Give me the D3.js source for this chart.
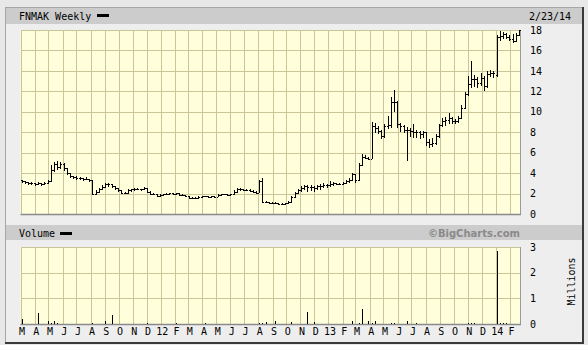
<!DOCTYPE html>
<html lang="en">
<head>
<meta charset="utf-8">
<title>FNMAK Weekly</title>
<script src="https://cdnjs.cloudflare.com/ajax/libs/d3/7.8.5/d3.min.js"></script>
<style>
  html, body { margin: 0; padding: 0; background: #e8e8e8; }
  svg { display: block; }
  .lbl { font-family: "DejaVu Sans Mono", monospace; font-size: 10px; fill: #000; }
  .grid { stroke: #cbc69a; stroke-width: 1; shape-rendering: crispEdges; }
  .bar { stroke: #000; stroke-width: 1; shape-rendering: crispEdges; }
</style>
</head>
<body>
<svg id="chart" width="588" height="345"></svg>
<script>
// weekly bars, first one is the week ending Fri 4 Mar 2011
var firstWeek = new Date(2011, 2, 4);

var openP = [
  3.3,3.2,3.1,3.0,3.0,2.9,3.0,2.9,3.0,3.2,
  4.3,4.9,4.6,4.9,4.5,4.0,3.7,3.6,3.5,3.5,
  3.4,3.4,3.3,2.0,2.2,2.4,2.6,2.9,2.9,2.7,
  2.5,2.3,2.1,2.1,2.3,2.4,2.4,2.4,2.4,2.5,
  2.2,2.0,2.0,1.8,1.9,1.95,2.0,2.05,1.95,2.05,
  1.9,1.9,1.8,1.6,1.55,1.6,1.7,1.75,1.75,1.7,
  1.75,1.7,1.9,1.95,1.95,1.9,1.95,2.2,2.4,2.4,
  2.35,2.35,2.25,2.2,2.1,3.2,1.2,1.15,1.1,1.05,
  1.05,1.0,0.95,1.05,1.2,1.7,2.1,2.35,2.5,2.7,
  2.6,2.6,2.5,2.7,2.7,2.85,2.8,2.9,3.0,2.95,
  2.95,3.0,3.2,3.3,3.9,3.3,4.8,5.6,5.5,5.4,
  8.6,8.4,8.1,7.6,8.6,8.7,11.0,11.0,8.8,8.6,
  8.2,8.2,8.1,8.0,8.0,7.8,8.0,7.0,6.8,6.9,
  7.6,8.7,9.1,9.2,9.4,9.1,9.1,9.4,10.4,11.7,
  12.7,13.2,13.2,12.8,13.3,12.5,13.7,13.8,13.6,17.3,
  17.4,17.6,17.3,17.1,16.9,17.5
];
var highP = [
  3.35,3.25,3.15,3.1,3.05,3.1,3.05,3.1,3.3,4.8,
  5.1,5.2,5.1,4.95,4.5,4.05,3.75,3.7,3.6,3.55,
  3.6,3.45,3.35,2.3,2.5,2.8,3.0,3.0,2.95,2.75,
  2.55,2.35,2.2,2.4,2.45,2.5,2.5,2.45,2.6,2.5,
  2.25,2.1,2.0,1.95,2.0,2.05,2.1,2.1,2.1,2.05,
  1.95,1.9,1.8,1.65,1.65,1.75,1.8,1.8,1.8,1.8,
  1.8,1.95,2.0,2.0,2.0,2.0,2.3,2.5,2.5,2.45,
  2.45,2.4,2.3,2.25,3.3,3.5,1.25,1.2,1.15,1.15,
  1.1,1.05,1.1,1.3,1.8,2.2,2.45,2.7,2.85,2.8,
  2.85,2.7,2.85,2.9,3.0,2.9,3.2,3.1,3.05,3.05,
  3.1,3.3,3.5,4.0,3.9,5.0,5.9,5.8,5.6,9.0,
  8.9,8.6,8.2,8.8,9.6,11.4,12.1,11.1,8.9,8.7,
  8.5,8.4,8.8,8.2,8.1,8.1,8.0,7.3,7.4,7.8,
  8.8,9.4,9.5,9.9,9.5,9.3,9.6,10.7,11.9,13.5,
  15.0,13.6,13.4,13.8,13.5,14.0,14.1,14.0,17.5,17.9,
  17.8,17.7,17.5,17.6,17.7,18.0
];
var lowP = [
  3.1,3.0,2.9,2.9,2.8,2.85,2.8,2.85,2.95,3.15,
  4.2,4.4,4.5,4.3,3.9,3.6,3.5,3.4,3.4,3.3,
  3.35,3.2,1.9,1.95,2.15,2.35,2.55,2.7,2.6,2.4,
  2.2,2.05,2.05,2.05,2.25,2.3,2.35,2.3,2.35,2.15,
  1.95,1.95,1.75,1.75,1.85,1.9,1.95,1.9,1.9,1.85,
  1.85,1.75,1.55,1.5,1.5,1.55,1.65,1.7,1.65,1.65,
  1.65,1.7,1.85,1.9,1.85,1.85,1.9,2.15,2.3,2.3,
  2.3,2.2,2.15,2.05,2.1,1.1,1.1,1.05,1.0,1.0,
  0.95,0.9,0.9,1.0,1.15,1.65,2.0,2.2,2.4,2.2,
  2.3,2.2,2.4,2.4,2.6,2.6,2.7,2.8,2.85,2.85,
  2.9,2.95,3.1,3.25,3.1,3.3,4.7,5.4,5.3,5.4,
  8.0,7.9,7.4,7.5,8.4,8.5,10.0,8.5,8.1,8.0,
  5.2,7.6,7.5,7.5,7.4,7.5,6.7,6.5,6.6,6.8,
  7.5,8.6,8.7,8.9,8.9,8.9,9.0,9.3,10.3,11.6,
  12.4,12.5,12.4,12.6,12.1,12.4,13.5,13.4,13.5,17.0,
  17.2,17.2,17.0,16.8,16.9,17.5
];
var closeP = [
  3.2,3.1,3.0,3.0,2.9,3.0,2.9,3.0,3.2,4.3,
  4.9,4.6,4.9,4.5,4.0,3.7,3.6,3.5,3.5,3.4,
  3.4,3.3,2.0,2.2,2.4,2.6,2.9,2.9,2.7,2.5,
  2.3,2.1,2.1,2.3,2.4,2.4,2.4,2.4,2.5,2.2,
  2.0,2.0,1.8,1.9,1.95,2.0,2.05,1.95,2.05,1.9,
  1.9,1.8,1.6,1.55,1.6,1.7,1.75,1.75,1.7,1.75,
  1.7,1.9,1.95,1.95,1.9,1.95,2.2,2.4,2.4,2.35,
  2.35,2.25,2.2,2.1,3.2,1.2,1.15,1.1,1.05,1.05,
  1.0,0.95,1.05,1.2,1.7,2.1,2.35,2.5,2.7,2.6,
  2.6,2.5,2.7,2.7,2.85,2.8,2.9,3.0,2.95,2.95,
  3.0,3.2,3.3,3.9,3.3,4.8,5.6,5.5,5.4,8.6,
  8.4,8.1,7.6,8.6,8.7,11.0,11.0,8.8,8.6,8.2,
  8.2,8.1,8.0,8.0,7.8,8.0,7.0,6.8,6.9,7.6,
  8.7,9.1,9.2,9.4,9.1,9.1,9.4,10.4,11.7,12.7,
  13.2,13.2,12.8,13.3,12.5,13.7,13.8,13.8,17.3,17.4,
  17.6,17.3,17.1,16.9,17.5,18.0
];
// volume in millions
var volume = [
  0.2,0.01,0.01,0.01,0.01,0.42,0.01,0.01,0.1,0.02,
  0.1,0.02,0.01,0.01,0.01,0.01,0.01,0.01,0.01,0.01,
  0.01,0.01,0.02,0.01,0.01,0.01,0.12,0.01,0.35,0.01,
  0.01,0.01,0.01,0.01,0.01,0.01,0.01,0.01,0.01,0.04,
  0.01,0.01,0.01,0.01,0.01,0.01,0.01,0.01,0.05,0.01,
  0.01,0.01,0.01,0.01,0.01,0.01,0.01,0.04,0.01,0.01,
  0.01,0.01,0.01,0.01,0.01,0.01,0.01,0.01,0.01,0.01,
  0.01,0.01,0.01,0.01,0.02,0.03,0.08,0.01,0.01,0.1,
  0.01,0.01,0.01,0.01,0.06,0.01,0.01,0.01,0.01,0.48,
  0.01,0.06,0.01,0.01,0.01,0.01,0.01,0.01,0.01,0.01,
  0.01,0.01,0.01,0.1,0.01,0.02,0.58,0.01,0.1,0.02,
  0.12,0.01,0.01,0.01,0.01,0.05,0.02,0.01,0.01,0.01,
  0.1,0.01,0.01,0.05,0.01,0.01,0.01,0.01,0.01,0.01,
  0.01,0.01,0.01,0.01,0.01,0.01,0.01,0.01,0.01,0.05,
  0.02,0.05,0.01,0.01,0.01,0.01,0.01,0.01,2.84,0.02,
  0.05,0.05,0.01,0.01,0.01,0.01
];

var priceTicks = [0, 2, 4, 6, 8, 10, 12, 14, 16, 18];
var volumeTicks = [0, 1, 2, 3];
var titleText = "FNMAK Weekly";
var dateText = "2/23/14";

var weeks = closeP.map(function (d, i) { return d3.timeWeek.offset(firstWeek, i); });

//---------------------------------------------
// layout
//---------------------------------------------
var svg = d3.select("#chart");
var left = 20.5, right = 520;
var pTop = 30, pBottom = 214;
var vTop = 247, vBottom = 324;

var x = d3.scaleTime()
  .domain([new Date(2011, 2, 1), new Date(2014, 1, 23)])
  .range([left, right]);
var yP = d3.scaleLinear().domain([0, 18]).range([pBottom, pTop]);
var yV = d3.scaleLinear().domain([0, 3]).range([vBottom, vTop]);

var months = d3.timeMonth.range(new Date(2011, 2, 1), new Date(2014, 1, 23));
function px(v) { return Math.round(v) + 0.5; }

// outer frame
svg.append("rect").attr("x", 5.5).attr("y", 7.5).attr("width", 577).attr("height", 335)
  .style("fill", "#eeeeee").style("stroke", "#a6a6a6");
svg.append("line").attr("x1", 583).attr("y1", 7).attr("x2", 583).attr("y2", 344)
  .style("stroke", "#3a3a3a").style("stroke-width", 2);
svg.append("line").attr("x1", 5).attr("y1", 343).attr("x2", 584).attr("y2", 343)
  .style("stroke", "#3a3a3a").style("stroke-width", 2);

// title bands
svg.append("rect").attr("x", 6).attr("y", 8).attr("width", 576).attr("height", 16)
  .style("fill", "#cccccc");
svg.append("rect").attr("x", 6).attr("y", 225).attr("width", 576).attr("height", 15)
  .style("fill", "#cccccc");

svg.append("text").attr("class", "lbl").attr("x", 19).attr("y", 20).text(titleText);
svg.append("rect").attr("x", 97).attr("y", 14).attr("width", 12).attr("height", 3).style("fill", "#000");
svg.append("text").attr("class", "lbl").attr("x", 529).attr("y", 20).text(dateText);

svg.append("text").attr("class", "lbl").attr("x", 19).attr("y", 237).text("Volume");
svg.append("rect").attr("x", 60).attr("y", 232).attr("width", 12).attr("height", 3).style("fill", "#000");
svg.append("text").attr("x", 520).attr("y", 236.5)
  .attr("text-anchor", "end")
  .style("font-family", "'DejaVu Sans', sans-serif").style("font-size", "10px")
  .style("font-weight", "bold").style("fill", "#8a8a8a")
  .text("\u00A9BigCharts.com");

//---------------------------------------------
// panels
//---------------------------------------------
function panel(top, bottom, yScale, ticks) {
  var g = svg.append("g");
  g.append("rect").attr("x", left).attr("y", top)
    .attr("width", right - left).attr("height", bottom - top)
    .style("fill", "#ffffdc");
  g.selectAll(".vgrid").data(months).enter().append("line")
    .attr("class", "grid")
    .attr("x1", function (d) { return px(x(d)); }).attr("x2", function (d) { return px(x(d)); })
    .attr("y1", top).attr("y2", bottom);
  g.selectAll(".hgrid").data(ticks).enter().append("line")
    .attr("class", "grid")
    .attr("x1", left).attr("x2", right)
    .attr("y1", function (d) { return px(yScale(d)); }).attr("y2", function (d) { return px(yScale(d)); });
  // shaded bottom / right edge
  g.append("line").attr("x1", left).attr("x2", right + 1).attr("y1", bottom + 0.5).attr("y2", bottom + 0.5)
    .style("stroke", "#8a8a8a").style("stroke-width", 1.5);
  g.append("line").attr("x1", right + 0.5).attr("x2", right + 0.5).attr("y1", top).attr("y2", bottom)
    .style("stroke", "#9a9a9a");

  var ax = d3.axisRight(yScale).tickValues(ticks).tickSize(0).tickPadding(10)
    .tickFormat(d3.format("d"));
  var a = svg.append("g").attr("transform", "translate(" + right + ",0)").call(ax);
  a.select(".domain").remove();
  a.selectAll("text").attr("class", "lbl").attr("font-family", null).attr("font-size", null);
  return g;
}

var pricePanel = panel(pTop, pBottom, yP, priceTicks);
var volPanel = panel(vTop, vBottom, yV, volumeTicks);

// price bars (high-low with open / close ticks)
var bars = pricePanel.selectAll(".ohlc").data(weeks).enter().append("g");
bars.append("line").attr("class", "bar")
  .attr("x1", function (d) { return px(x(d)); }).attr("x2", function (d) { return px(x(d)); })
  .attr("y1", function (d, i) { return yP(highP[i]); })
  .attr("y2", function (d, i) { return yP(lowP[i]) + 0.5; });
bars.append("line").attr("class", "bar")
  .attr("x1", function (d) { return Math.round(x(d)) - 1; }).attr("x2", function (d) { return Math.round(x(d)); })
  .attr("y1", function (d, i) { return px(yP(openP[i])); })
  .attr("y2", function (d, i) { return px(yP(openP[i])); });
bars.append("line").attr("class", "bar")
  .attr("x1", function (d) { return Math.round(x(d)) + 1; }).attr("x2", function (d) { return Math.round(x(d)) + 2; })
  .attr("y1", function (d, i) { return px(yP(closeP[i])); })
  .attr("y2", function (d, i) { return px(yP(closeP[i])); });

// volume bars
volPanel.selectAll(".vbar").data(weeks).enter().append("line")
  .attr("class", "bar")
  .attr("x1", function (d) { return px(x(d)); }).attr("x2", function (d) { return px(x(d)); })
  .attr("y1", function (d, i) { return yV(volume[i]); })
  .attr("y2", vBottom);

// month axis
var xAxis = d3.axisBottom(x).tickValues(months).tickSize(0).tickPadding(4)
  .tickFormat(function (d) {
    if (d.getMonth() === 0) return d3.timeFormat("%y")(d);
    return d3.timeFormat("%b")(d).charAt(0);
  });
var xa = svg.append("g").attr("transform", "translate(1," + vBottom + ")").call(xAxis);
xa.select(".domain").remove();
xa.selectAll("text").attr("class", "lbl").attr("font-family", null).attr("font-size", null);

svg.append("text").attr("class", "lbl")
  .attr("transform", "translate(575,281.5) rotate(-90)")
  .attr("text-anchor", "middle")
  .text("Millions");
</script>
</body>
</html>
